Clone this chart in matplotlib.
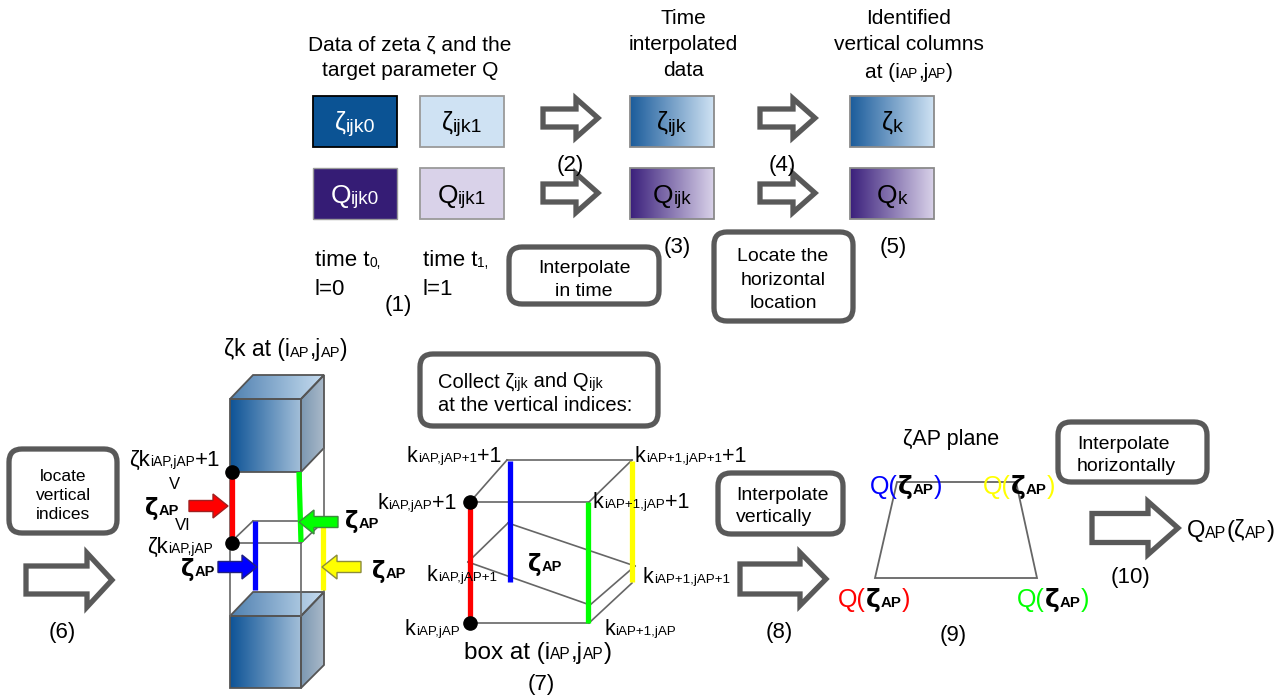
import re
import matplotlib
matplotlib.use('Agg')
import matplotlib.pyplot as plt
import numpy as np
from matplotlib.patches import Polygon, Rectangle, FancyBboxPatch
from matplotlib.colors import LinearSegmentedColormap

plt.rcParams['font.family'] = ['Liberation Sans', 'DejaVu Sans']

# labels of the diagram
step_labels = ['(1)', '(2)', '(3)', '(4)', '(5)', '(6)', '(7)', '(8)', '(9)', '(10)']
header_data = ['Data of zeta ζ and the', 'target parameter Q']
header_time = ['Time', 'interpolated', 'data']
header_cols = ['Identified', 'vertical columns', 'at (i_{AP},j_{AP})']
zeta_boxes = ['ζ_{ijk0}', 'ζ_{ijk1}', 'ζ_{ijk}', 'ζ_{k}']
q_boxes = ['Q_{ijk0}', 'Q_{ijk1}', 'Q_{ijk}', 'Q_{k}']
note_time = ['Interpolate', 'in time']
note_horiz = ['Locate the', 'horizontal', 'location']
note_vidx = ['locate', 'vertical', 'indices']
note_collect = ['Collect ζ_{ijk} and Q_{ijk}', 'at the vertical indices:']
note_vert = ['Interpolate', 'vertically']
note_hinterp = ['Interpolate', 'horizontally']
corner_colors = ['red', 'blue', 'lime', 'yellow']

GRAY = '#595959'
WIRE = '#666666'

fig = plt.figure(figsize=(12.85, 7.0), dpi=100)
ax = fig.add_axes([0, 0, 1, 1])
ax.set_xlim(0, 1285)
ax.set_ylim(700, 0)
ax.axis('off')
R = fig.canvas.get_renderer()


def rich(x, y, s, size=15, ha='left', color='black', weight='normal', sub=0.66,
         drop=0.03, parts=None):
    """text with small subscripts; y is the visual middle of the capitals"""
    if parts is None:
        parts = []
        for i, chunk in enumerate(re.split(r'_\{([^}]*)\}', s)):
            if chunk:
                parts.append((chunk, i % 2 == 1, color, weight))
    px = size * 100 / 72
    base = y + 0.36 * px
    objs, widths = [], []
    for p in parts:
        txt, is_sub, col, w = p[:4]
        fam = p[4] if len(p) > 4 else None
        fs = size * sub if is_sub else size
        yy = base + (drop * px if is_sub else 0)
        kw = dict(family=fam) if fam else {}
        t = ax.text(0, yy, txt, fontsize=fs, color=col, fontweight=w,
                    va='baseline', ha='left', zorder=8, **kw)
        fp = t.get_fontproperties()
        w1 = R.get_text_width_height_descent('|' + txt + '|', fp, ismath=False)[0]
        w0 = R.get_text_width_height_descent('||', fp, ismath=False)[0]
        objs.append(t)
        widths.append(w1 - w0)
    total = sum(widths)
    x0 = x - total / 2 if ha == 'center' else (x - total if ha == 'right' else x)
    for t, wd in zip(objs, widths):
        t.set_x(x0)
        x0 += wd
    return x0


def zap(x, y, ha='left', size=16.5):
    # bold zeta_AP label
    rich(x, y, None, size=size, ha=ha, sub=0.64, drop=0.0,
         parts=[('ζ', False, 'black', 'bold', 'DejaVu Sans'),
                ('AP', True, 'black', 'bold')])


def grad(x0, x1, y0, y1, c0, c1, clip=None, z=2):
    cmap = LinearSegmentedColormap.from_list('g', [c0, c1])
    im = ax.imshow(np.linspace(0, 1, 256)[None, :], cmap=cmap, extent=(x0, x1, y1, y0),
                   aspect='auto', interpolation='bilinear', zorder=z)
    if clip is not None:
        im.set_clip_path(clip)
    return im


def face(pts, c0, c1, ec='#555555', lw=1.3):
    poly = Polygon(pts, closed=True, fc='none', ec=ec, lw=lw, zorder=3)
    ax.add_patch(poly)
    xs = [p[0] for p in pts]
    ys = [p[1] for p in pts]
    grad(min(xs), max(xs), min(ys), max(ys), c0, c1, clip=poly)


def block_arrow(x0, x1, yc, shaft, head, hlen, fc='white', ec=GRAY, lw=3.8, z=5):
    if x1 > x0:
        xh = x1 - hlen
    else:
        xh = x1 + hlen
    pts = [(x0, yc - shaft / 2), (xh, yc - shaft / 2), (xh, yc - head / 2), (x1, yc),
           (xh, yc + head / 2), (xh, yc + shaft / 2), (x0, yc + shaft / 2)]
    ax.add_patch(Polygon(pts, closed=True, fc=fc, ec=ec, lw=lw, joinstyle='miter', zorder=z))


def note(x0, y0, x1, y1, lines, cx, ys, ha='center', size=13.5):
    ax.add_patch(FancyBboxPatch((x0, y0), x1 - x0, y1 - y0,
                                boxstyle='round,pad=0,rounding_size=13',
                                fc='white', ec=GRAY, lw=3.8, zorder=4))
    for s, yy in zip(lines, ys):
        rich(cx, yy, s, size=size, ha=ha, sub=0.7)


# ---------------- top part ----------------
for s, yy in zip(header_data, [43, 69]):
    rich(410, yy, s, size=15, ha='center')
for s, yy in zip(header_time, [17, 43, 69]):
    rich(683, yy, s, size=15, ha='center')
for s, yy in zip(header_cols, [17, 43, 70]):
    rich(909, yy, s, size=15, ha='center')

BW, BH = 84, 51
ax.add_patch(Rectangle((313, 96), BW, BH, fc='#0b5394', ec='black', lw=1.3, zorder=3))
ax.add_patch(Rectangle((420, 96), BW, BH, fc='#cfe2f3', ec='#9a9a9a', lw=1.3, zorder=3))
ax.add_patch(Rectangle((313, 168), BW, BH, fc='#351c75', ec='#9a9a9a', lw=1.0, zorder=3))
ax.add_patch(Rectangle((420, 168), BW, BH, fc='#d9d2e9', ec='#9a9a9a', lw=1.3, zorder=3))
for bx in [630, 850]:
    grad(bx, bx + BW, 96, 96 + BH, '#1b5c9b', '#cfe2f3')
    ax.add_patch(Rectangle((bx, 96), BW, BH, fc='none', ec='#8a8a8a', lw=1.3, zorder=3))
    grad(bx, bx + BW, 168, 168 + BH, '#3a1f7b', '#d9d2e9')
    ax.add_patch(Rectangle((bx, 168), BW, BH, fc='none', ec='#8a8a8a', lw=1.3, zorder=3))

box_x = [313, 420, 630, 850]
for i, bx in enumerate(box_x):
    col = 'white' if i == 0 else 'black'
    rich(bx + BW / 2, 121, zeta_boxes[i], size=18, ha='center', color=col, sub=0.78, drop=0.06)
    rich(bx + BW / 2, 193, q_boxes[i], size=19, ha='center', color=col, sub=0.72, drop=0.06)

for ax0 in [543, 760]:
    block_arrow(ax0, ax0 + 55, 118, 18, 39, 22)
    block_arrow(ax0, ax0 + 55, 193, 18, 39, 22)

rich(315, 258, 'time t_{0,}', size=16, sub=0.62)
rich(315, 287, 'l=0', size=16)
rich(423, 258, 'time t_{1,}', size=16, sub=0.62)
rich(423, 287, 'l=1', size=16)

note(509, 247, 659, 304, note_time, 584, [266, 289], size=14)
note(714, 232, 853, 321, note_horiz, 783, [254, 278, 301], size=14)

step_pos = [(398, 303), (570, 163), (677, 245), (782, 163), (893, 245),
            (62, 630), (541, 682), (779, 630), (953, 633), (1131, 575)]
for s, (sx, sy) in zip(step_labels, step_pos):
    rich(sx, sy, s, size=16, ha='center')

# ---------------- vertical column (6) ----------------
rich(286, 348, 'ζk at (i_{AP},j_{AP})', size=16.5, ha='center', sub=0.64)
note(9, 449, 117, 533, note_vidx, 63, [475, 494, 513], size=12.5)
block_arrow(26, 112, 580, 28, 54, 25)

FRONT = ('#0d5396', '#a3bfd9')
TOP = ('#4f80b0', '#c6dcef')
SIDE = ('#7c98b2', '#a9b9c9')
# upper block
face([(230, 399), (301, 399), (301, 472), (230, 472)], *FRONT)
face([(230, 399), (253, 375), (324, 375), (301, 399)], *TOP)
face([(301, 399), (324, 375), (324, 448), (301, 472)], *SIDE)
# lower block
face([(230, 616), (301, 616), (301, 688), (230, 688)], *FRONT)
face([(230, 616), (253, 592), (324, 592), (301, 616)], *TOP)
face([(301, 616), (324, 592), (324, 665), (301, 688)], *SIDE)
# wire frame between the blocks
wire_segs = [[(230, 472), (230, 616)], [(301, 472), (301, 616)], [(324, 448), (324, 592)],
             [(230, 543), (301, 543)], [(253, 521), (324, 521)],
             [(230, 543), (253, 521)], [(301, 543), (324, 521)]]
for seg in wire_segs:
    ax.plot([p[0] for p in seg], [p[1] for p in seg], color=WIRE, lw=1.2, zorder=3)

ax.plot([232, 232], [472, 542], color='red', lw=3.8, zorder=4, solid_capstyle='butt')
ax.plot([299, 301], [472, 542], color='lime', lw=3.8, zorder=4, solid_capstyle='butt')
ax.plot([255, 255], [521, 590], color='blue', lw=3.8, zorder=4, solid_capstyle='butt')
ax.plot([323, 323], [527, 590], color='yellow', lw=3.8, zorder=4, solid_capstyle='butt')
ax.plot([232, 232], [472, 543], 'o', color='black', ms=9.5, zorder=6)

block_arrow(189, 228, 506, 11, 24, 15, fc='red', ec='#a02020', lw=1.0)
block_arrow(338, 299, 522, 11, 24, 15, fc='lime', ec='#3c8c3c', lw=1.0)
block_arrow(218, 257, 567, 11, 24, 15, fc='blue', ec='#202080', lw=1.0)
block_arrow(361, 322, 567, 11, 24, 15, fc='yellow', ec='#8c8c3c', lw=1.0)

rich(220, 458, 'ζk_{iAP,jAP}+1', size=16, ha='right', sub=0.62, drop=0.0)
rich(174, 483, 'V', size=12, ha='center')
zap(145, 507)
rich(183, 524, 'VI', size=12, ha='center')
rich(213, 545, 'ζk_{iAP,jAP}', size=16, ha='right', sub=0.62, drop=0.0)
zap(181, 568)
zap(345, 520)
zap(372, 570)

# ---------------- box (7) ----------------
note(420, 354, 658, 426, note_collect, 438, [380, 404], ha='left', size=14.5)

box_segs = [[(470, 502), (589, 502)], [(470, 623), (589, 623)], [(507, 460), (632, 460)],
            [(470, 502), (507, 460)], [(589, 502), (632, 460)], [(589, 623), (632, 583)],
            [(468, 562), (508, 523)], [(508, 523), (635, 566)], [(468, 562), (590, 605)],
            [(590, 605), (635, 566)]]
for seg in box_segs:
    ax.plot([p[0] for p in seg], [p[1] for p in seg], color=WIRE, lw=1.2, zorder=3)
ax.plot([470, 470], [502, 623], color='red', lw=3.8, zorder=4, solid_capstyle='butt')
ax.plot([510, 510], [461, 582], color='blue', lw=3.8, zorder=4, solid_capstyle='butt')
ax.plot([588, 588], [502, 623], color='lime', lw=3.8, zorder=4, solid_capstyle='butt')
ax.plot([632, 632], [461, 582], color='yellow', lw=3.8, zorder=4, solid_capstyle='butt')
ax.plot([470, 470], [502, 623], 'o', color='black', ms=9.5, zorder=6)

KS = dict(size=15.5, sub=0.62, drop=0.0)
rich(407, 454, 'k_{iAP,jAP+1}+1', **KS)
rich(635, 454, 'k_{iAP+1,jAP+1}+1', **KS)
rich(456, 501, 'k_{iAP,jAP}+1', ha='right', **KS)
rich(593, 500, 'k_{iAP+1,jAP}+1', **KS)
rich(427, 573, 'k_{iAP,jAP+1}', **KS)
rich(643, 575, 'k_{iAP+1,jAP+1}', **KS)
rich(405, 627, 'k_{iAP,jAP}', **KS)
rich(604, 627, 'k_{iAP+1,jAP}', **KS)
zap(545, 563, ha='center')
rich(538, 650, 'box at (i_{AP},j_{AP})', size=17.5, ha='center', sub=0.64)

# ---------------- vertical / horizontal interpolation ----------------
note(718, 473, 843, 534, note_vert, 736, [493, 515], ha='left', size=14)
block_arrow(740, 826, 579, 30, 53, 26)

rich(951, 437, 'ζAP plane', size=15.5, ha='center')
trap = [(897, 482), (1016, 482), (1037, 578), (875, 578)]
ax.add_patch(Polygon(trap, closed=True, fc='none', ec=WIRE, lw=1.3, zorder=3))

label_pos = [(838, 598), (870, 485), (1017, 598), (983, 485)]
for col, (lx, ly) in zip(corner_colors, label_pos):
    rich(lx, ly, None, size=18, sub=0.6, drop=0.0,
         parts=[('Q(', False, col, 'normal'),
                ('ζ', False, 'black', 'bold', 'DejaVu Sans'),
                ('AP', True, 'black', 'bold'),
                (')', False, col, 'normal')])

note(1058, 422, 1207, 482, note_hinterp, 1077, [442, 464], ha='left', size=14)
block_arrow(1092, 1178, 528, 29, 53, 30)
rich(1187, 529, 'Q_{AP}(ζ_{AP})', size=17, sub=0.68)

ax.set_xlim(0, 1285)
ax.set_ylim(700, 0)
fig.savefig('out.png', dpi=100)
